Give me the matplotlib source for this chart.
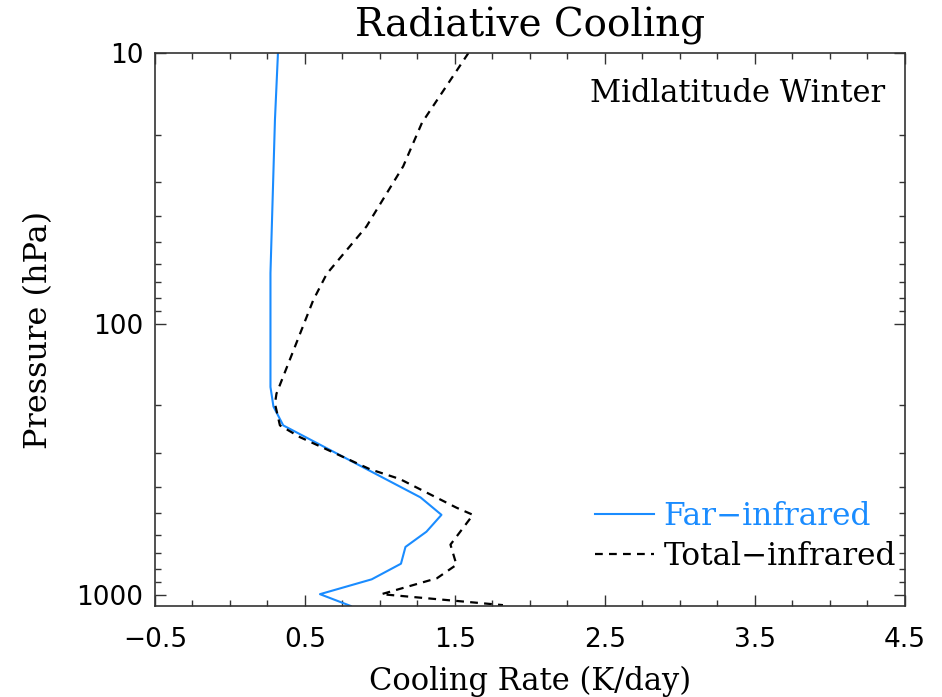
import matplotlib
matplotlib.use("Agg")
import matplotlib.pyplot as plt
from matplotlib.ticker import FixedLocator, MultipleLocator, NullFormatter, FixedFormatter
import numpy as np

# far-infrared cooling profile (K/day vs hPa)
far_rate = [0.32, 0.30, 0.27, 0.27, 0.29, 0.355, 1.27, 1.41, 1.31, 1.17, 1.14, 0.945, 0.60, 0.805]
far_pres = [10, 17.6, 65, 171, 202, 237, 437, 507, 585, 666, 768, 877, 995, 1100]

# total-infrared cooling profile
tot_rate = [1.59, 1.28, 1.155, 0.91, 0.645, 0.555, 0.31, 0.30, 0.333, 0.467, 0.933, 1.133,
            1.51, 1.62, 1.47, 1.51, 1.38, 1.01, 1.82]
tot_pres = [10, 18.1, 26.2, 43.7, 65.4, 81.8, 181, 197, 237, 262, 344, 374,
            477, 507, 653, 775, 869, 995, 1092]

xticks = [-0.5, 0.5, 1.5, 2.5, 3.5, 4.5]
yticks = [10, 100, 1000]

blue = "#1a8cff"
serif = "DejaVu Serif"

fig = plt.figure(figsize=(9.42, 6.97), dpi=100)
ax = fig.add_axes([0.1645, 0.1306, 0.7962, 0.7934])

ax.plot(far_rate, far_pres, color=blue, lw=1.5, label="Far\u2212infrared")
ax.plot(tot_rate, tot_pres, color="black", lw=1.6, dashes=(3.5, 2.8), label="Total\u2212infrared")

ax.set_yscale("log")
ax.set_ylim(1100, 10)
ax.set_xlim(-0.5, 4.5)

ax.xaxis.set_major_locator(FixedLocator(xticks))
ax.xaxis.set_minor_locator(MultipleLocator(0.25))
ax.set_xticklabels(["\u22120.5" if v < 0 else str(v) for v in xticks])
ax.yaxis.set_major_locator(FixedLocator(yticks))
ax.yaxis.set_major_formatter(FixedFormatter([str(v) for v in yticks]))
ax.yaxis.set_minor_formatter(NullFormatter())

ax.tick_params(which="both", direction="in", top=True, right=True, color="#333333", width=1.0)
ax.tick_params(which="major", length=8, labelsize=19)
ax.tick_params(which="minor", length=4.5)
ax.tick_params(axis="x", which="major", pad=15)
ax.tick_params(axis="y", which="major", pad=8.5)
for s in ax.spines.values():
    s.set_color("#333333")
    s.set_linewidth(1.2)

ax.set_title("Radiative Cooling", fontsize=28, family=serif, pad=12)
ax.set_xlabel("Cooling Rate (K/day)", fontsize=22, family=serif, labelpad=9)
ax.set_ylabel("Pressure (hPa)", fontsize=23, family=serif, labelpad=16)

ax.text(0.973, 0.927, "Midlatitude Winter", transform=ax.transAxes, ha="right", va="center",
        fontsize=22, family=serif)

leg = ax.legend(loc="lower right", bbox_to_anchor=(1.013, 0.028), frameon=False,
                prop={"family": serif, "size": 22.5}, handlelength=1.9, handletextpad=0.3,
                labelspacing=0.28, borderaxespad=0.2)
leg.get_texts()[0].set_color(blue)

fig.savefig("out.png", dpi=100)
